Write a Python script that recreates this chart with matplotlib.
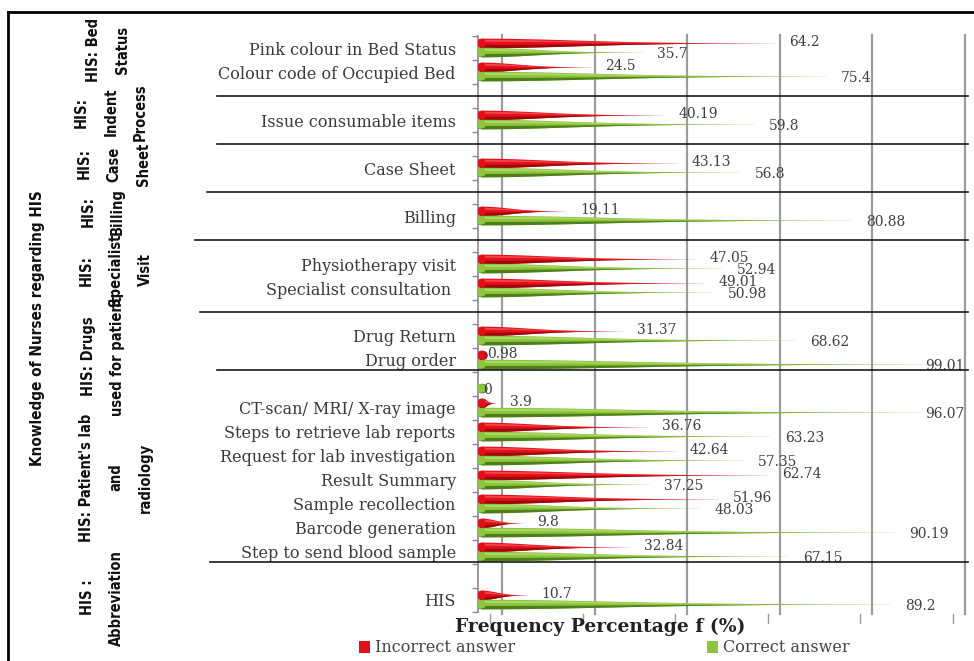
import numpy as np
import matplotlib
matplotlib.use("Agg")
import matplotlib.pyplot as plt
from matplotlib.patches import Polygon, Ellipse, Patch
from matplotlib.lines import Line2D
from matplotlib.transforms import ScaledTranslation, blended_transform_factory

nan = np.nan

# ---------------- data ----------------
categories = ["Pink colour in Bed Status", "Colour code of Occupied Bed", "",
              "Issue consumable items", "", "Case Sheet", "", "Billing", "",
              "Physiotherapy visit", "Specialist consultation ", "",
              "Drug Return", "Drug order", "",
              "CT-scan/ MRI/ X-ray image", "Steps to retrieve lab reports",
              "Request for lab investigation", "Result Summary",
              "Sample recollection", "Barcode generation",
              "Step to send blood sample", "", "HIS"]
incorrect = [64.2, 24.5, nan, 40.19, nan, 43.13, nan, 19.11, nan, 47.05, 49.01, nan,
             31.37, 0.98, nan, 3.9, 36.76, 42.64, 62.74, 51.96, 9.8, 32.84, nan, 10.7]
correct = [35.7, 75.4, nan, 59.8, nan, 56.8, nan, 80.88, nan, 52.94, 50.98, nan,
           68.62, 99.01, 0, 96.07, 63.23, 57.35, 37.25, 48.03, 90.19, 67.15, nan, 89.2]
groups = ["HIS: Bed\nStatus", "HIS:\nIndent\nProcess", "HIS:\nCase\nSheet",
          "HIS:\nBilling", "HIS:\nSpecialist\nVisit", "HIS: Drugs\nused for patient",
          "HIS: Patient's lab\nand\nradiology", "HIS :\nAbbreviation"]
outer_label = "Knowledge of Nurses regarding HIS"
x_label = "Frequency Percentage f (%)"
series_names = ["Incorrect answer", "Correct answer"]
grid_ticks = [0, 20, 40, 60, 80, 100]

# ---------------- layout ----------------
W, H = 974, 661
fig = plt.figure(figsize=(W / 100, H / 100), dpi=100)
fig.patch.set_facecolor("white")

def fx(px):
    return px / W

def fy(py):
    return 1 - py / H

ax_left, ax_right, ax_top, ax_bottom = 478, 968, 36, 612
ax = fig.add_axes([fx(ax_left), fy(ax_bottom), fx(ax_right - ax_left), (ax_bottom - ax_top) / H])
n = len(categories)
ax.set_xlim(0, (ax_right - ax_left) / 4.63)
ax.set_ylim(n - 0.5, -0.5)
ax.set_facecolor("none")

for s in ["top", "right", "bottom"]:
    ax.spines[s].set_visible(False)
ax.spines["left"].set_color("#8a8a8a")
ax.spines["left"].set_linewidth(1.2)
ax.set_xticks([])
ax.set_yticks(range(n))
ax.set_yticklabels(categories, fontfamily="DejaVu Serif", fontsize=11.5, color="#3a3a3a")
ax.tick_params(axis="y", which="major", length=0, pad=16)
ax.set_yticks(np.arange(-0.5, n, 1.0), minor=True)
ax.tick_params(axis="y", which="minor", length=4, color="#8a8a8a", width=1)

# back-wall gridlines (3D offset)
depth = ScaledTranslation(24 / 100, 0, fig.dpi_scale_trans)
half_depth = ScaledTranslation(12 / 100, 0, fig.dpi_scale_trans)
for g in grid_ticks:
    ax.plot([g, g], [-0.55, n - 0.4], color="#9c9c9c", lw=1.6,
            transform=ax.transData + depth, clip_on=False, zorder=0)
    ax.plot([g, g], [n - 0.05, n - 0.4], color="#9c9c9c", lw=1.0,
            transform=ax.transData + half_depth, clip_on=False, zorder=0)

# cones with a bell-shaped taper
h = 0.2
t = np.linspace(0, 1, 80)
prof = 0.94 * np.exp(-(t / 0.45) ** 2) + 0.06 * (1 - t)

def cone(v, yc, main, dark, light):
    if np.isnan(v):
        return
    x0 = 0.9
    L = max(v - x0, 0.0)
    xs = x0 + L * t
    top = yc - h * prof
    bot = yc + h * prof
    ax.add_patch(Ellipse((x0, yc), 2.4, 2 * h, fc=dark, ec="none", zorder=2))
    ax.add_patch(Polygon(np.r_[np.c_[xs, top], np.c_[xs[::-1], bot[::-1]]],
                         closed=True, fc=main, ec="none", zorder=3))
    mid = yc + 0.3 * h * prof
    ax.add_patch(Polygon(np.r_[np.c_[xs, mid], np.c_[xs[::-1], bot[::-1]]],
                         closed=True, fc=dark, ec="none", zorder=3))
    hl1 = yc - 0.75 * h * prof
    hl2 = yc - 0.35 * h * prof
    ax.add_patch(Polygon(np.r_[np.c_[xs, hl1], np.c_[xs[::-1], hl2[::-1]]],
                         closed=True, fc=light, ec="none", alpha=0.6, zorder=3))
    ax.add_patch(Ellipse((0.7, yc - 0.05 * h), 2.0, 1.8 * h, fc=main, ec="none", zorder=3))

def label(v, yc):
    if np.isnan(v):
        return
    kw = dict(va="center", fontsize=10, fontfamily="DejaVu Serif",
              color="#404040", zorder=5, annotation_clip=False, textcoords="offset points")
    if v > 92:
        ax.annotate(f"{v:g}", xy=(1, yc), xycoords=("axes fraction", "data"),
                    xytext=(-4 * 0.72, 0), ha="right", **kw)
    else:
        off = 14 if v >= 2 else 5
        ax.annotate(f"{v:g}", xy=(v, yc), xytext=(off * 0.72, 0), ha="left", **kw)

red_main, red_dark, red_light = "#e3101a", "#9a0a0c", "#ff6a6a"
green_main, green_dark, green_light = "#8cc43c", "#4f7f1c", "#c8e88a"
for i in range(n):
    label(incorrect[i], i - 0.23)
    label(correct[i], i + 0.25)
for i in range(n):
    cone(incorrect[i], i - 0.19, red_main, red_dark, red_light)
    cone(correct[i], i + 0.19, green_main, green_dark, green_light)

# group separators
sep_tr = blended_transform_factory(fig.transFigure, ax.transData)
separators = [2.0, 4.0, 6.0, 8.0, 11.0, 13.4, 21.4]
sep_left = [217, 217, 207, 195, 200, 217, 210]
for yv, xl in zip(separators, sep_left):
    fig.add_artist(Line2D([fx(xl), fx(968)], [yv, yv], transform=sep_tr,
                          color="#1a1a1a", lw=1.2))

# group labels
group_pos = [(108, 0.1), (111, 2.67), (114, 4.83), (103, 6.83),
             (116, 9.25), (103, 12.85), (116, 17.9), (102, 22.9)]
narrow = ["DejaVu Sans"]
for txt, (gx, gy) in zip(groups, group_pos):
    fig.text(fx(gx), gy, txt, transform=sep_tr, rotation=90, ha="center", va="center",
             multialignment="center", linespacing=2.2, fontfamily=narrow,
             fontstretch="condensed", fontweight="bold", fontsize=10.5, color="#111111")
fig.text(fx(38), 11.67, outer_label, transform=sep_tr, rotation=90, ha="center",
         va="center", fontfamily=narrow, fontstretch="condensed", fontweight="bold",
         fontsize=11, color="#111111")

# x label
fig.text(fx(600), fy(627), x_label, ha="center", va="center", fontfamily="DejaVu Serif",
         fontweight="bold", fontsize=13.5, color="#222222")

# legend
handles = [Patch(fc=red_main, ec="none"), Patch(fc=green_main, ec="none")]
fig.legend(handles, series_names, loc="center", bbox_to_anchor=(fx(604), fy(648)),
           ncol=2, frameon=False, handlelength=0.7, handleheight=0.7, handletextpad=0.3,
           columnspacing=12.0, prop={"family": "DejaVu Serif", "size": 11.5},
           labelcolor="#444444")

# outer frame
fig.add_artist(Line2D([fx(8), fx(974)], [fy(12), fy(12)], color="black", lw=2))
fig.add_artist(Line2D([fx(8), fx(8)], [fy(12), fy(661)], color="black", lw=2))

fig.savefig("out.png", dpi=100)
